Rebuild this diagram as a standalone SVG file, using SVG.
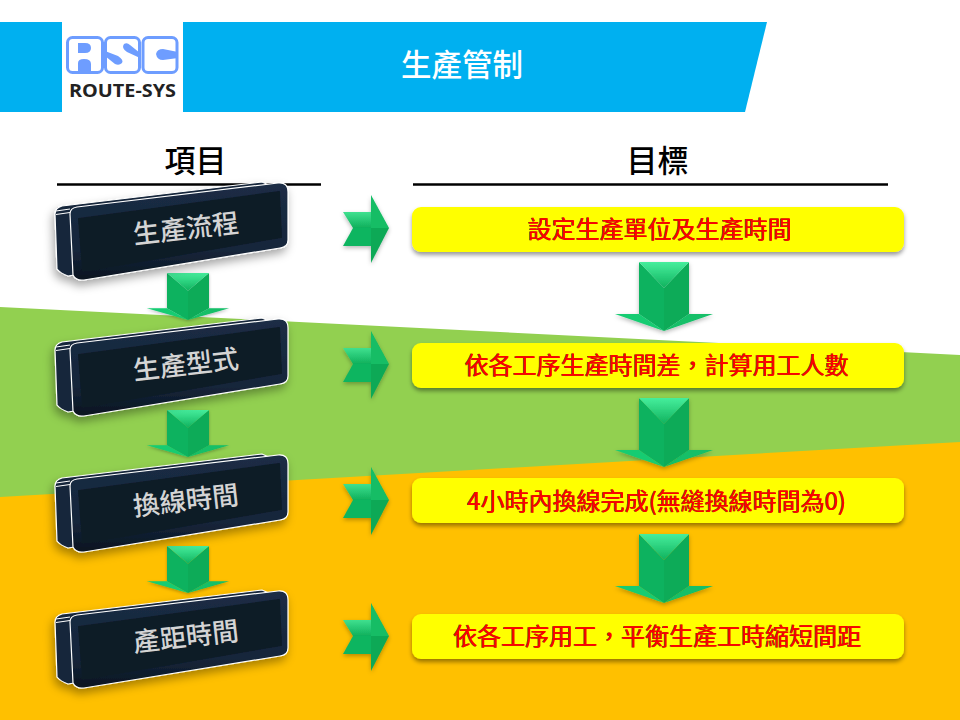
<svg xmlns="http://www.w3.org/2000/svg" xmlns:xlink="http://www.w3.org/1999/xlink" width="960" height="720" viewBox="0 0 960 720" lang="zh-TW">
<style>
text{font-family:"Noto Sans CJK TC","Noto Sans",sans-serif;text-anchor:middle}
.title{font-size:30.500px;fill:#fff;font-weight:500}
.head{font-size:31px;fill:#000;font-weight:500}
.btxt{font-size:26.500px;fill:#d4d4d4;font-weight:500}
.goal{font-size:24px;fill:#f00;font-weight:400;filter:url(#edge)}
.box{fill:#ff0;filter:url(#sd)}
.rule{stroke:#000;stroke-width:2.600}
.fr{fill:#fff;stroke:#6e9dff;stroke-width:3}
.bl{fill:#6e9dff}
</style>
<defs>
<filter id="sd" x="-10%" y="-30%" width="120%" height="170%"><feDropShadow dx="0" dy="3" stdDeviation="2" flood-color="#000" flood-opacity=".4"/></filter>
<filter id="sb" x="-15%" y="-15%" width="130%" height="140%"><feDropShadow dx="-2" dy="5" stdDeviation="5" flood-color="#000" flood-opacity=".35"/></filter>
<filter id="sa" x="-20%" y="-20%" width="140%" height="140%"><feDropShadow dx="0" dy="2" stdDeviation="2" flood-color="#000" flood-opacity=".28"/></filter>
<filter id="edge" x="-2%" y="-5%" width="104%" height="110%"><feDropShadow dx="-.7" dy="0" stdDeviation="0" flood-color="#3a0010" flood-opacity="1"/></filter>
<linearGradient id="bev" x1="0" y1="0" x2="0" y2="1"><stop offset="0" stop-color="#1b2d45"/><stop offset=".7" stop-color="#15253a"/><stop offset="1" stop-color="#0a1420"/></linearGradient>
<linearGradient id="lt" x1="0" y1="0" x2="0" y2="1"><stop offset="0" stop-color="#46ee9c"/><stop offset="1" stop-color="#10b25e"/></linearGradient>
<linearGradient id="lr" x1="0" y1="0" x2="0" y2="1"><stop offset="0" stop-color="#3fe08f"/><stop offset="1" stop-color="#0fb05c"/></linearGradient>
<g id="btn">
<path d="M55 214Q55 208 62 206L262 182L280 190L100 271L68 276Q60 273 57 269Z" fill="#15253a" stroke="#fff" stroke-width="1.200"/>
<path d="M70 214Q70 208 77 207L278 183Q288 182 288 192L288 240Q288 247 280 248L84 280Q76 281 73 275Z" fill="url(#bev)" stroke="#fff" stroke-width="1.200"/>
<polygon points="79,219 279,192 281,237 83,271" fill="#0f1b28" stroke="#0f1b28" stroke-width="2" stroke-linejoin="round"/>
<path d="M56 211L70 209M56 214.500L70 212.500" stroke="#fff" stroke-width="1" fill="none"/>
</g>
<g id="ra" filter="url(#sa)">
<polygon points="343,212 371,212 371,228 353,228" fill="url(#lr)"/>
<polygon points="343,246 371,246 371,228 353,228" fill="#10b561"/>
<polygon points="371,195 389,228 371,228" fill="#13bd65"/>
<polygon points="371,263 389,228 371,228" fill="#0ca956"/>
</g>
<g id="da" filter="url(#sa)">
<polygon points="-25,0 0,26 0,69 -25,52" fill="#0fb25e"/>
<polygon points="25,0 0,26 0,69 25,52" fill="#0cab58"/>
<polygon points="-25,0 25,0 0,26" fill="url(#lt)"/>
<polygon points="-49,52 -25,52 0,69" fill="#16cc72"/>
<polygon points="49,52 25,52 0,69" fill="#12bf67"/>
</g>
</defs>
<rect width="960" height="720" fill="#fff"/>
<polygon points="0,307 960,355 960,445 0,500" fill="#92d050"/>
<polygon points="0,497 960,442 960,720 0,720" fill="#ffc000"/>
<g id="banner">
<polygon points="0,22 767,22 745,112 0,112" fill="#00b0f0"/>
<text class="title" x="462" y="76">生產管制</text>
</g>
<g id="logo">
<rect x="62" y="22" width="121" height="90" fill="#fff"/>
<rect x="67.500" y="37.500" width="35" height="35" rx="5" class="fr"/>
<rect x="105.500" y="37.500" width="34" height="35" rx="5" class="fr"/>
<rect x="143" y="37.500" width="34" height="35" rx="5" class="fr"/>
<path class="bl" d="M78 43H85Q91 43 91 48Q91 53 85 53H78ZM78 71V63Q78 59 84 59Q91 59 91 64V71Z"/>
<path class="bl" d="M124 44Q127 42 130 45L140 53V58L127 52Q121 48 124 44ZM105 51L118 56Q124 60 122 63Q119 66 115 64L105 56Z"/>
<path class="bl" d="M156 54Q157 49 163 49L178 52V58L163 60Q157 60 156 54Z"/>
<text x="122.500" y="97" font-size="18" textLength="107" lengthAdjust="spacingAndGlyphs" fill="#222" style='font-family:"Open Sans",sans-serif;font-weight:700'>ROUTE-SYS</text>
</g>
<g id="headers">
<line class="rule" x1="57" y1="184.500" x2="321" y2="184.500"/>
<line class="rule" x1="413" y1="184.500" x2="888" y2="184.500"/>
<text class="head" x="195.500" y="172">項目</text>
<text class="head" x="657.500" y="172">目標</text>
</g>
<g id="connectors">
<use xlink:href="#da" transform="translate(188,273) scale(.84,.68)"/>
<use xlink:href="#da" transform="translate(188,410) scale(.84,.68)"/>
<use xlink:href="#da" transform="translate(188,546) scale(.84,.68)"/>
<use xlink:href="#ra"/>
<use xlink:href="#ra" y="136"/>
<use xlink:href="#ra" y="272"/>
<use xlink:href="#ra" y="408"/>
<use xlink:href="#da" transform="translate(664,262)"/>
<use xlink:href="#da" transform="translate(664,398)"/>
<use xlink:href="#da" transform="translate(664,534)"/>
</g>
<g id="item1"><use xlink:href="#btn" filter="url(#sb)"/><text class="btxt" transform="translate(187,238) rotate(-6.500)">生產流程</text></g>
<g id="item2"><use xlink:href="#btn" y="136" filter="url(#sb)"/><text class="btxt" transform="translate(187,374) rotate(-6.500)">生產型式</text></g>
<g id="item3"><use xlink:href="#btn" y="272" filter="url(#sb)"/><text class="btxt" transform="translate(187,510) rotate(-6.500)">換線時間</text></g>
<g id="item4"><use xlink:href="#btn" y="408" filter="url(#sb)"/><text class="btxt" transform="translate(187,646) rotate(-6.500)">產距時間</text></g>
<g id="goal1"><rect class="box" x="412" y="207" width="492" height="45" rx="9"/><text class="goal" x="660" y="238">設定生產單位及生產時間</text></g>
<g id="goal2"><rect class="box" x="412" y="343" width="492" height="45" rx="9"/><text class="goal" x="657" y="374">依各工序生產時間差，計算用工人數</text></g>
<g id="goal3"><rect class="box" x="412" y="478" width="492" height="45" rx="9"/><text class="goal" x="657" y="510">4小時內換線完成(無縫換線時間為0)</text></g>
<g id="goal4"><rect class="box" x="412" y="614" width="492" height="45" rx="9"/><text class="goal" x="657.500" y="645">依各工序用工，平衡生產工時縮短間距</text></g>
</svg>
